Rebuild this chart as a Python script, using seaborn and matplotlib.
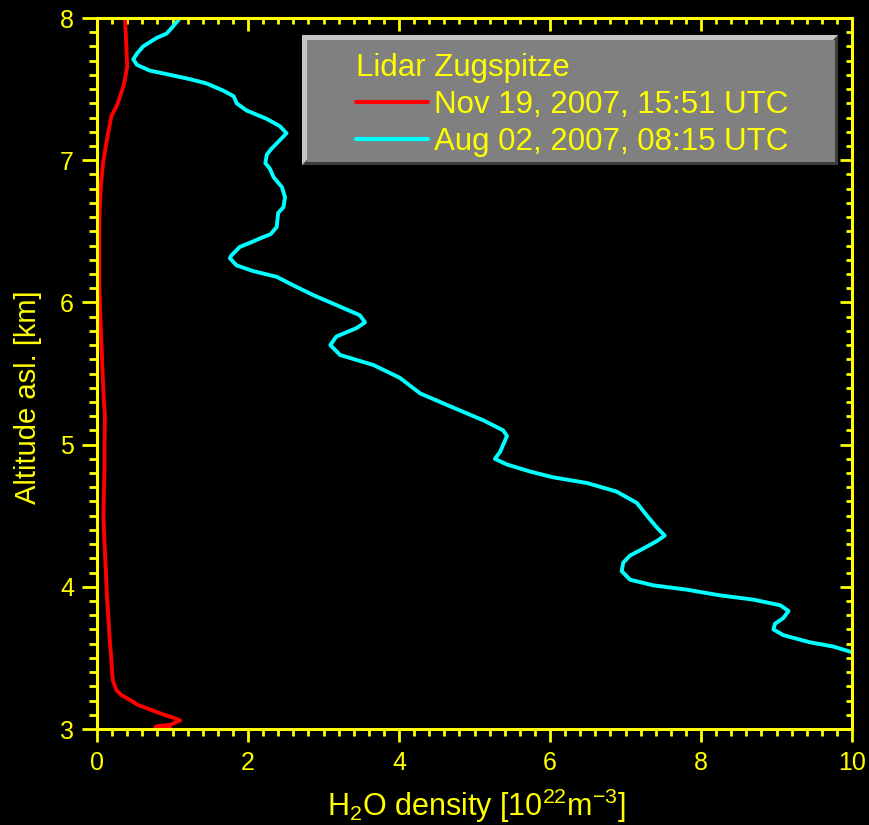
import numpy as np
import pandas as pd
import matplotlib
matplotlib.use("Agg")
import matplotlib.pyplot as plt
from matplotlib.patches import Polygon, Rectangle
from matplotlib.ticker import MultipleLocator
import seaborn as sns

YELLOW = "#ffff00"
RED = "#ff0000"
CYAN = "#00ffff"

legend_title = "Lidar Zugspitze"
series_labels = ["Nov 19, 2007, 15:51 UTC", "Aug 02, 2007, 08:15 UTC"]
x_ticks = [0, 2, 4, 6, 8, 10]
y_ticks = [3, 4, 5, 6, 7, 8]

# Nov 19 profile: H2O density [1e22 m^-3] versus altitude [km], top to bottom
nov_density = [0.37, 0.38, 0.39, 0.40, 0.37, 0.35, 0.30, 0.26, 0.19, 0.13,
               0.08, 0.05, 0.035, 0.03, 0.03, 0.03, 0.04, 0.05, 0.06, 0.07,
               0.09, 0.105, 0.10, 0.10, 0.09, 0.085, 0.10, 0.115, 0.13, 0.15,
               0.17, 0.19, 0.20, 0.21, 0.26, 0.32, 0.48, 0.54, 0.79, 0.89,
               1.01, 1.10, 0.97, 0.80, 0.77, 0.97]
nov_altitude = [8.00, 7.90, 7.78, 7.66, 7.57, 7.52, 7.44, 7.38, 7.31, 7.14,
                6.98, 6.81, 6.65, 6.49, 6.30, 6.14, 5.95, 5.81, 5.70, 5.55,
                5.31, 5.20, 5.00, 4.84, 4.65, 4.49, 4.30, 4.14, 3.95, 3.79,
                3.62, 3.49, 3.40, 3.34, 3.27, 3.24, 3.19, 3.17, 3.12, 3.10,
                3.08, 3.06, 3.03, 3.02, 3.01, 3.005]

# Aug 02 profile
aug_density = [1.10, 0.99, 0.92, 0.79, 0.61, 0.53, 0.48, 0.53, 0.70, 0.97,
               1.23, 1.45, 1.67, 1.81, 1.85, 1.98, 2.25, 2.42, 2.51, 2.42,
               2.31, 2.25, 2.23, 2.29, 2.34, 2.45, 2.49, 2.47, 2.40, 2.38,
               2.30, 2.16, 2.03, 1.89, 1.78, 1.76, 1.85, 2.07, 2.38, 2.60,
               2.87, 3.22, 3.48, 3.55, 3.44, 3.17, 3.09, 3.22, 3.66, 4.01,
               4.28, 4.63, 5.12, 5.38, 5.43, 5.34, 5.27, 5.43, 5.74, 6.04,
               6.49, 6.88, 7.15, 7.30, 7.41, 7.52, 7.41, 7.24, 7.06, 6.97,
               6.95, 7.06, 7.37, 7.81, 8.25, 8.69, 9.05, 9.16, 9.09, 8.98,
               8.96, 9.09, 9.44, 9.75, 10.0]
aug_altitude = [8.00, 7.93, 7.89, 7.86, 7.80, 7.75, 7.71, 7.67, 7.63, 7.60,
                7.57, 7.54, 7.49, 7.45, 7.40, 7.35, 7.29, 7.24, 7.19, 7.14,
                7.08, 7.04, 6.98, 6.94, 6.88, 6.81, 6.74, 6.67, 6.63, 6.53,
                6.48, 6.45, 6.42, 6.39, 6.33, 6.31, 6.26, 6.22, 6.18, 6.12,
                6.05, 5.97, 5.91, 5.86, 5.82, 5.76, 5.70, 5.63, 5.56, 5.47,
                5.36, 5.28, 5.17, 5.10, 5.06, 4.95, 4.90, 4.86, 4.81, 4.77,
                4.73, 4.67, 4.59, 4.49, 4.42, 4.36, 4.32, 4.27, 4.22, 4.17,
                4.11, 4.05, 4.01, 3.98, 3.94, 3.91, 3.87, 3.83, 3.78, 3.74,
                3.70, 3.66, 3.61, 3.58, 3.54]

df = pd.concat([
    pd.DataFrame({"density": nov_density, "altitude": nov_altitude,
                  "profile": series_labels[0]}),
    pd.DataFrame({"density": aug_density, "altitude": aug_altitude,
                  "profile": series_labels[1]}),
], ignore_index=True)

sns.set_theme(style="ticks")
plt.rcParams.update({
    "font.family": ["Liberation Sans", "DejaVu Sans"],
    "mathtext.fontset": "custom",
    "mathtext.rm": "Liberation Sans",
    "mathtext.it": "Liberation Sans:italic",
    "mathtext.bf": "Liberation Sans:bold",
    "figure.facecolor": "black",
    "axes.facecolor": "black",
    "savefig.facecolor": "black",
})

W, H = 869, 825
fig = plt.figure(figsize=(W / 100, H / 100), dpi=100)
ax = fig.add_axes([97 / W, 1 - 729 / H, (852 - 97) / W, (729 - 18) / H])

sns.lineplot(data=df, x="density", y="altitude", hue="profile",
             palette=[RED, CYAN], sort=False, estimator=None, orient="y",
             linewidth=2.8, ax=ax)

ax.set_xlim(0, 10)
ax.set_ylim(3, 8)
ax.set_xticks(x_ticks)
ax.set_yticks(y_ticks)
ax.xaxis.set_minor_locator(MultipleLocator(0.2))
ax.yaxis.set_minor_locator(MultipleLocator(0.1))

for s in ax.spines.values():
    s.set_color(YELLOW)
    s.set_linewidth(2.2)

ax.tick_params(axis="both", which="both", colors=YELLOW, width=2.0,
               labelcolor=YELLOW, labelsize=18)
ax.tick_params(axis="x", which="major", direction="out", length=9.5, pad=6,
               top=False)
ax.tick_params(axis="x", which="minor", direction="out", length=5, top=False)
ax.tick_params(axis="y", which="major", direction="out", length=10.5, pad=6,
               right=False)
ax.tick_params(axis="y", which="minor", direction="out", length=5.5,
               right=False)

# inward ticks along the top and right edges
top = ax.secondary_xaxis("top")
top.set_xticks(x_ticks)
top.xaxis.set_minor_locator(MultipleLocator(0.2))
top.tick_params(axis="x", which="major", direction="in", length=9.5,
                width=2.0, colors=YELLOW, labeltop=False)
top.tick_params(axis="x", which="minor", direction="in", length=4.5,
                width=2.0, colors=YELLOW)
top.spines["top"].set_visible(False)
right = ax.secondary_yaxis("right")
right.set_yticks(y_ticks)
right.yaxis.set_minor_locator(MultipleLocator(0.1))
right.tick_params(axis="y", which="major", direction="in", length=9,
                  width=2.0, colors=YELLOW, labelright=False)
right.tick_params(axis="y", which="minor", direction="in", length=4.5,
                  width=2.0, colors=YELLOW)
right.spines["right"].set_visible(False)

ax.set_xlabel(r"H$_2$O density [10$^{22}$m$^{-3}$]", color=YELLOW,
              fontsize=22)
ax.set_ylabel("Altitude asl. [km]", color=YELLOW, fontsize=21)
ax.xaxis.set_label_coords(0.503, -0.081)
ax.yaxis.set_label_coords(-0.073, 0.467)

# bevelled legend panel
def fx(px):
    return px / W


def fy(py):
    return 1 - py / H


x0, x1, y0, y1, b = 302, 838, 35, 165, 5
fig.patches.append(Rectangle((fx(x0), fy(y1)), fx(x1) - fx(x0),
                             fy(y0) - fy(y1), transform=fig.transFigure,
                             facecolor="#3c3c3c", edgecolor="none", zorder=5))
fig.patches.append(Polygon([(fx(x0), fy(y1)), (fx(x0), fy(y0)),
                            (fx(x1), fy(y0)), (fx(x1 - b), fy(y0 + b)),
                            (fx(x0 + b), fy(y0 + b)), (fx(x0 + b), fy(y1 - b))],
                           closed=True, transform=fig.transFigure,
                           facecolor="#c4c4c4", edgecolor="none", zorder=6))
fig.patches.append(Rectangle((fx(x0 + b), fy(y1 - 3)),
                             fx(x1 - 3) - fx(x0 + b),
                             fy(y0 + b) - fy(y1 - 3),
                             transform=fig.transFigure, facecolor="#808080",
                             edgecolor="none", zorder=7))

handles, labels = ax.get_legend_handles_labels()
ax.get_legend().remove()
leg = fig.legend(handles, labels, title=legend_title, loc="upper left",
                 bbox_to_anchor=(fx(351), fy(48)), frameon=False,
                 fontsize=22.5, title_fontsize=22.5, labelcolor=YELLOW,
                 handlelength=2.3, handletextpad=0.2, labelspacing=0.22,
                 borderpad=0.17, borderaxespad=0, alignment="left")
leg.get_title().set_color(YELLOW)
leg.set_zorder(10)
for h in leg.legend_handles:
    h.set_linewidth(3.0)

fig.savefig("out.png", dpi=100, facecolor="black")
